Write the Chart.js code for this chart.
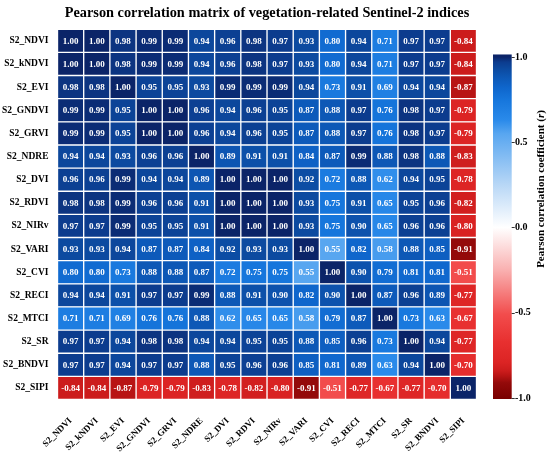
<!DOCTYPE html>
<html>
<head>
<meta charset="utf-8">
<script src="https://cdn.jsdelivr.net/npm/chart.js@4.4.1/dist/chart.umd.min.js"></script>
<style>
  html, body { margin: 0; padding: 0; background: #ffffff; }
  #wrap { width: 550px; height: 458px; }
</style>
</head>
<body>
<div id="wrap"><canvas id="c" width="550" height="458"></canvas></div>
<script>
// ---- Data ----
const indexLabels = ['S2_NDVI','S2_kNDVI','S2_EVI','S2_GNDVI','S2_GRVI','S2_NDRE','S2_DVI','S2_RDVI','S2_NIRv','S2_VARI','S2_CVI','S2_RECI','S2_MTCI','S2_SR','S2_BNDVI','S2_SIPI'];

const rNDVI  = [1.00, 1.00, 0.98, 0.99, 0.99, 0.94, 0.96, 0.98, 0.97, 0.93, 0.80, 0.94, 0.71, 0.97, 0.97, -0.84];
const rkNDVI = [1.00, 1.00, 0.98, 0.99, 0.99, 0.94, 0.96, 0.98, 0.97, 0.93, 0.80, 0.94, 0.71, 0.97, 0.97, -0.84];
const rEVI   = [0.98, 0.98, 1.00, 0.95, 0.95, 0.93, 0.99, 0.99, 0.99, 0.94, 0.73, 0.91, 0.69, 0.94, 0.94, -0.87];
const rGNDVI = [0.99, 0.99, 0.95, 1.00, 1.00, 0.96, 0.94, 0.96, 0.95, 0.87, 0.88, 0.97, 0.76, 0.98, 0.97, -0.79];
const rGRVI  = [0.99, 0.99, 0.95, 1.00, 1.00, 0.96, 0.94, 0.96, 0.95, 0.87, 0.88, 0.97, 0.76, 0.98, 0.97, -0.79];
const rNDRE  = [0.94, 0.94, 0.93, 0.96, 0.96, 1.00, 0.89, 0.91, 0.91, 0.84, 0.87, 0.99, 0.88, 0.98, 0.88, -0.83];
const rDVI   = [0.96, 0.96, 0.99, 0.94, 0.94, 0.89, 1.00, 1.00, 1.00, 0.92, 0.72, 0.88, 0.62, 0.94, 0.95, -0.78];
const rRDVI  = [0.98, 0.98, 0.99, 0.96, 0.96, 0.91, 1.00, 1.00, 1.00, 0.93, 0.75, 0.91, 0.65, 0.95, 0.96, -0.82];
const rNIRv  = [0.97, 0.97, 0.99, 0.95, 0.95, 0.91, 1.00, 1.00, 1.00, 0.93, 0.75, 0.90, 0.65, 0.96, 0.96, -0.80];
const rVARI  = [0.93, 0.93, 0.94, 0.87, 0.87, 0.84, 0.92, 0.93, 0.93, 1.00, 0.55, 0.82, 0.58, 0.88, 0.85, -0.91];
const rCVI   = [0.80, 0.80, 0.73, 0.88, 0.88, 0.87, 0.72, 0.75, 0.75, 0.55, 1.00, 0.90, 0.79, 0.81, 0.81, -0.51];
const rRECI  = [0.94, 0.94, 0.91, 0.97, 0.97, 0.99, 0.88, 0.91, 0.90, 0.82, 0.90, 1.00, 0.87, 0.96, 0.89, -0.77];
const rMTCI  = [0.71, 0.71, 0.69, 0.76, 0.76, 0.88, 0.62, 0.65, 0.65, 0.58, 0.79, 0.87, 1.00, 0.73, 0.63, -0.67];
const rSR    = [0.97, 0.97, 0.94, 0.98, 0.98, 0.94, 0.94, 0.95, 0.95, 0.88, 0.85, 0.96, 0.73, 1.00, 0.94, -0.77];
const rBNDVI = [0.97, 0.97, 0.94, 0.97, 0.97, 0.88, 0.95, 0.96, 0.96, 0.85, 0.81, 0.89, 0.63, 0.94, 1.00, -0.70];
const rSIPI  = [-0.84, -0.84, -0.87, -0.79, -0.79, -0.83, -0.78, -0.82, -0.80, -0.91, -0.51, -0.77, -0.67, -0.77, -0.70, 1.00];

const colorbarTicks = [-1.0, -0.5, 0.0, 0.5, 1.0];

const matrixRows = [rNDVI, rkNDVI, rEVI, rGNDVI, rGRVI, rNDRE, rDVI, rRDVI, rNIRv, rVARI, rCVI, rRECI, rMTCI, rSR, rBNDVI, rSIPI];

// ---- Colour map (diverging red - white - blue) ----
const cmapStops = [
  [-1.00, [122, 0, 0]],
  [-0.91, [148, 10, 10]],
  [-0.87, [184, 20, 20]],
  [-0.84, [204, 28, 28]],
  [-0.79, [220, 36, 36]],
  [-0.67, [232, 48, 48]],
  [-0.51, [242, 76, 76]],
  [-0.25, [249, 176, 176]],
  [ 0.00, [255, 255, 255]],
  [ 0.25, [184, 215, 246]],
  [ 0.55, [88, 166, 240]],
  [ 0.63, [42, 138, 234]],
  [ 0.75, [22, 118, 220]],
  [ 0.82, [15, 102, 204]],
  [ 0.88, [13, 88, 182]],
  [ 0.93, [12, 74, 160]],
  [ 0.97, [12, 60, 142]],
  [ 1.00, [11, 36, 104]]
];
function cmap(v) {
  if (v <= cmapStops[0][0]) return 'rgb(' + cmapStops[0][1].join(',') + ')';
  for (let k = 1; k < cmapStops.length; k++) {
    const [v1, c1] = cmapStops[k];
    const [v0, c0] = cmapStops[k - 1];
    if (v <= v1) {
      const t = (v - v0) / (v1 - v0);
      const c = c0.map((a, i) => Math.round(a + (c1[i] - a) * t));
      return 'rgb(' + c.join(',') + ')';
    }
  }
  return 'rgb(' + cmapStops[cmapStops.length - 1][1].join(',') + ')';
}

const serif = "'Liberation Serif', 'Times New Roman', 'DejaVu Serif', serif";

// One dataset per column; each row is a floating bar spanning the column's unit cell.
const datasets = indexLabels.map((colName, j) => ({
  label: colName,
  data: matrixRows.map(row => [j - 0.5, j + 0.5]),
  values: matrixRows.map(row => row[j]),
  backgroundColor: matrixRows.map(row => cmap(row[j])),
  borderColor: '#ffffff',
  borderWidth: 1,
  borderSkipped: false,
  grouped: false,
  barPercentage: 1,
  categoryPercentage: 1
}));

// Cell text plugin
const cellText = {
  id: 'cellText',
  afterDatasetsDraw(chart) {
    const ctx = chart.ctx;
    ctx.save();
    ctx.fillStyle = '#ffffff';
    ctx.font = 'bold 9px ' + serif;
    ctx.textAlign = 'center';
    ctx.textBaseline = 'middle';
    chart.data.datasets.forEach((ds, di) => {
      const meta = chart.getDatasetMeta(di);
      meta.data.forEach((el, i) => {
        const p = el.getCenterPoint();
        ctx.fillText(ds.values[i].toFixed(2), p.x, p.y + 0.5);
      });
    });
    ctx.restore();
  }
};

// Colour bar plugin
const colorBar = {
  id: 'colorBar',
  afterDraw(chart) {
    const sc = chart.scales.cb;
    const ctx = chart.ctx;
    const yTop = sc.getPixelForValue(1) - 2.5;
    const yBot = sc.getPixelForValue(-1) + 1;
    const x0 = sc.left + 16.5;
    const w = 18.7;
    const g = ctx.createLinearGradient(0, sc.getPixelForValue(1), 0, sc.getPixelForValue(-1));
    cmapStops.forEach(([v, c]) => g.addColorStop((1 - v) / 2, 'rgb(' + c.join(',') + ')'));
    ctx.save();
    ctx.fillStyle = g;
    ctx.fillRect(x0, yTop, w, yBot - yTop);
    // tick marks
    ctx.strokeStyle = '#000000';
    ctx.lineWidth = 0.8;
    colorbarTicks.forEach(v => {
      const y = Math.round(sc.getPixelForValue(v)) + 0.5;
      ctx.beginPath();
      ctx.moveTo(x0 + w, y);
      ctx.lineTo(x0 + w + 3, y);
      ctx.stroke();
    });
    // axis title (reads bottom to top)
    const parts = [
      ['Pearson correlation coefficient (', 'bold 11px ' + serif],
      ['r', 'italic bold 11px ' + serif],
      [')', 'bold 11px ' + serif]
    ];
    let total = 0;
    parts.forEach(([t, f]) => { ctx.font = f; total += ctx.measureText(t).width; });
    ctx.translate(541.5, 189);
    ctx.rotate(-Math.PI / 2);
    ctx.fillStyle = '#000000';
    ctx.textBaseline = 'middle';
    ctx.textAlign = 'left';
    let x = -total / 2;
    parts.forEach(([t, f]) => { ctx.font = f; ctx.fillText(t, x, 0); x += ctx.measureText(t).width; });
    ctx.restore();
  }
};

const CA = { left: 57.5, right: 476.5, bottom: 399.5 };

new Chart(document.getElementById('c'), {
  type: 'bar',
  data: { labels: indexLabels, datasets: datasets },
  plugins: [cellText, colorBar],
  options: {
    indexAxis: 'y',
    responsive: false,
    animation: false,
    devicePixelRatio: 1,
    layout: { padding: 0 },
    plugins: {
      legend: { display: false },
      tooltip: { enabled: false },
      title: {
        display: true,
        fullSize: false,
        text: 'Pearson correlation matrix of vegetation-related Sentinel-2 indices',
        color: '#000000',
        font: { family: serif, size: 14.3, weight: 'bold', lineHeight: 1.2 },
        padding: { top: 5, bottom: 7.1 }
      }
    },
    scales: {
      y: {
        type: 'category',
        position: 'left',
        offset: true,
        grid: { display: false, drawTicks: true, tickLength: 9 },
        border: { display: false },
        ticks: { color: '#000000', font: { family: serif, size: 9.5, weight: 'bold' }, padding: 0, autoSkip: false },
        afterFit(s) { s.width = CA.left; }
      },
      x: {
        type: 'linear',
        position: 'bottom',
        min: -0.5,
        max: indexLabels.length - 0.5,
        offset: false,
        grid: { display: false, drawTicks: true, tickLength: 16 },
        border: { display: false },
        afterBuildTicks(s) { s.ticks = indexLabels.map((_, i) => ({ value: i })); },
        ticks: {
          color: '#000000',
          font: { family: serif, size: 9, weight: 'bold' },
          minRotation: 45, maxRotation: 45,
          autoSkip: false,
          padding: 0,
          callback: (v) => indexLabels[v]
        },
        afterFit(s) { s.height = 458 - CA.bottom; }
      },
      cb: {
        type: 'linear',
        axis: 'y',
        position: 'right',
        min: -1.0088,
        max: 1.1625,
        offset: false,
        reverse: false,
        grid: { display: false, drawTicks: true, tickLength: 38.5, offset: false },
        border: { display: false },
        afterBuildTicks(s) { s.ticks = colorbarTicks.map(v => ({ value: v })); },
        ticks: {
          color: '#000000',
          font: { family: serif, size: 10, weight: 'bold' },
          padding: 0,
          callback: (v) => v.toFixed(1)
        },
        afterFit(s) { s.width = 550 - CA.right; }
      }
    }
  }
});
</script>
</body>
</html>
